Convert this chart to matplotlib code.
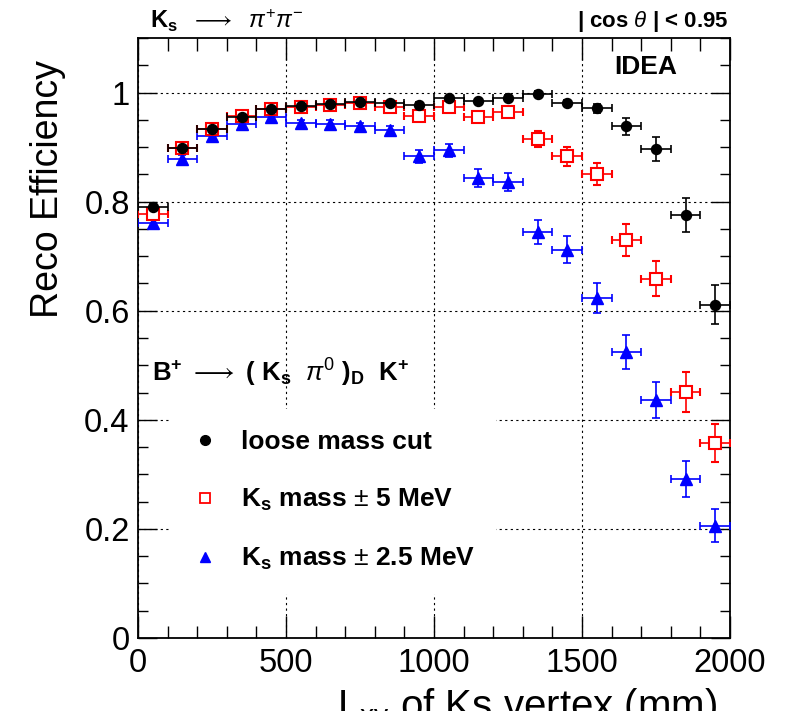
import matplotlib
matplotlib.use("Agg")
import matplotlib.pyplot as plt
from matplotlib.lines import Line2D
from matplotlib.ticker import MultipleLocator, FuncFormatter

plt.rcParams['font.family'] = ['Liberation Sans', 'DejaVu Sans']
plt.rcParams['mathtext.fontset'] = 'custom'
plt.rcParams['mathtext.rm'] = 'Liberation Sans'
plt.rcParams['mathtext.it'] = 'Liberation Sans:italic'
plt.rcParams['mathtext.bf'] = 'Liberation Sans:bold'

# bin centres of the decay length (mm), 100 mm bins
lxy = [50, 150, 250, 350, 450, 550, 650, 750, 850, 950,
       1050, 1150, 1250, 1350, 1450, 1550, 1650, 1750, 1850, 1950]
bin_half = [50] * 20

# efficiency for the three K_s mass selections
loose = [0.791, 0.898, 0.933, 0.956, 0.969, 0.976, 0.979, 0.983, 0.981, 0.978,
         0.990, 0.984, 0.990, 0.998, 0.981, 0.971, 0.938, 0.896, 0.776, 0.611]
loose_err = [0.006, 0.004, 0.004, 0.003, 0.003, 0.003, 0.003, 0.003, 0.003, 0.004,
             0.004, 0.004, 0.005, 0.005, 0.005, 0.008, 0.016, 0.022, 0.031, 0.036]

mass5 = [0.778, 0.898, 0.933, 0.957, 0.969, 0.974, 0.978, 0.981, 0.973, 0.957,
         0.974, 0.955, 0.964, 0.915, 0.883, 0.851, 0.730, 0.659, 0.451, 0.357]
mass5_err = [0.007, 0.005, 0.004, 0.004, 0.004, 0.004, 0.004, 0.004, 0.005, 0.006,
             0.007, 0.008, 0.009, 0.015, 0.017, 0.020, 0.029, 0.032, 0.036, 0.035]

mass25 = [0.761, 0.879, 0.920, 0.943, 0.955, 0.944, 0.943, 0.938, 0.931, 0.883,
          0.894, 0.843, 0.836, 0.744, 0.712, 0.623, 0.524, 0.437, 0.291, 0.206]
mass25_err = [0.007, 0.006, 0.005, 0.005, 0.005, 0.005, 0.006, 0.006, 0.007, 0.012,
              0.012, 0.017, 0.017, 0.022, 0.025, 0.027, 0.031, 0.033, 0.033, 0.030]

labels = ['loose mass cut',
          r'K$_{\mathbf{s}}$ mass $\pm$ 5 MeV',
          r'K$_{\mathbf{s}}$ mass $\pm$ 2.5 MeV']

fig = plt.figure(figsize=(7.92, 7.11), dpi=100)
ax = fig.add_axes([138 / 792, 73 / 711, 592 / 792, 600 / 711])

# blue triangles first, black circles on top
ax.errorbar(lxy, mass25, yerr=mass25_err, xerr=bin_half, fmt='^', color='blue',
            ms=8, lw=1.2, capsize=2.6, capthick=1.2, zorder=6)
ax.errorbar(lxy, mass5, yerr=mass5_err, xerr=bin_half, fmt='s', color='red',
            mfc='white', mec='red', mew=1.5, ms=8.5, lw=1.2, capsize=2.6,
            capthick=1.2, zorder=7)
ax.errorbar(lxy, loose, yerr=loose_err, xerr=bin_half, fmt='o', color='black',
            ms=7.2, lw=1.2, capsize=2.6, capthick=1.2, zorder=8)

ax.set_xlim(0, 2000)
ax.set_ylim(0, 1.1)
ax.xaxis.set_major_locator(MultipleLocator(500))
ax.xaxis.set_minor_locator(MultipleLocator(100))
ax.yaxis.set_major_locator(MultipleLocator(0.2))
ax.yaxis.set_minor_locator(MultipleLocator(0.05))
ax.yaxis.set_major_formatter(FuncFormatter(lambda v, p: '%g' % round(v, 2)))
ax.tick_params(which='both', direction='in', top=True, right=True,
               labelsize=23.5, width=1)
ax.tick_params(axis='x', which='major', length=16, pad=7)
ax.tick_params(axis='x', which='minor', length=9)
ax.tick_params(axis='y', which='major', length=14, pad=6)
ax.tick_params(axis='y', which='minor', length=7)
for s in ax.spines.values():
    s.set_linewidth(1.3)

ax.set_axisbelow(True)
ax.grid(True, which='major', color='black', ls=(0, (2, 3)), lw=0.8)

handles = [Line2D([], [], ls='none', marker='o', color='black', ms=7),
           Line2D([], [], ls='none', marker='s', mfc='white', mec='red', mew=1.3, ms=7),
           Line2D([], [], ls='none', marker='^', color='blue', ms=7)]
leg = ax.legend(handles, labels, loc='upper left',
                bbox_to_anchor=(171 / 792, 1 - 409 / 711),
                bbox_transform=fig.transFigure, frameon=True, fancybox=False,
                facecolor='white', edgecolor='none', framealpha=1,
                prop={'size': 19, 'weight': 'bold'}, borderpad=0.8,
                handlelength=1.0, handletextpad=0.85, labelspacing=1.25,
                borderaxespad=0)
leg.set_zorder(5)

ax.text(1716, 1.047, 'IDEA', ha='center', va='center', fontsize=19,
        fontweight='bold')
ax.text(47, 0.47,
        r'$\mathbf{B^{+}}\ \longrightarrow\ \mathbf{(\ K_{s}}\ \ \pi^{0}\ \mathbf{)_{D}\ \ K^{+}}$',
        fontsize=18.5, va='baseline')

fig.text(150 / 792, 1 - 28 / 711,
         r'$\mathbf{K_{s}}\ \ \longrightarrow\ \ \pi^{+}\pi^{-}$',
         fontsize=17, va='baseline')
fig.text(728 / 792, 1 - 27 / 711, r'| cos $\theta$ | < 0.95',
         fontsize=16, fontweight='bold', va='baseline', ha='right')

fig.text(0.061, 0.734, 'Reco Efficiency', rotation=90, ha='center',
         va='center', fontsize=27)
# the axis title sits at the bottom edge, cut by the frame as in the original
fig.text(717 / 792, -8 / 711, r'L$_{\mathrm{xy}}$ of Ks vertex (mm)',
         ha='right', va='baseline', fontsize=29)

fig.savefig('out.png', dpi=100)
